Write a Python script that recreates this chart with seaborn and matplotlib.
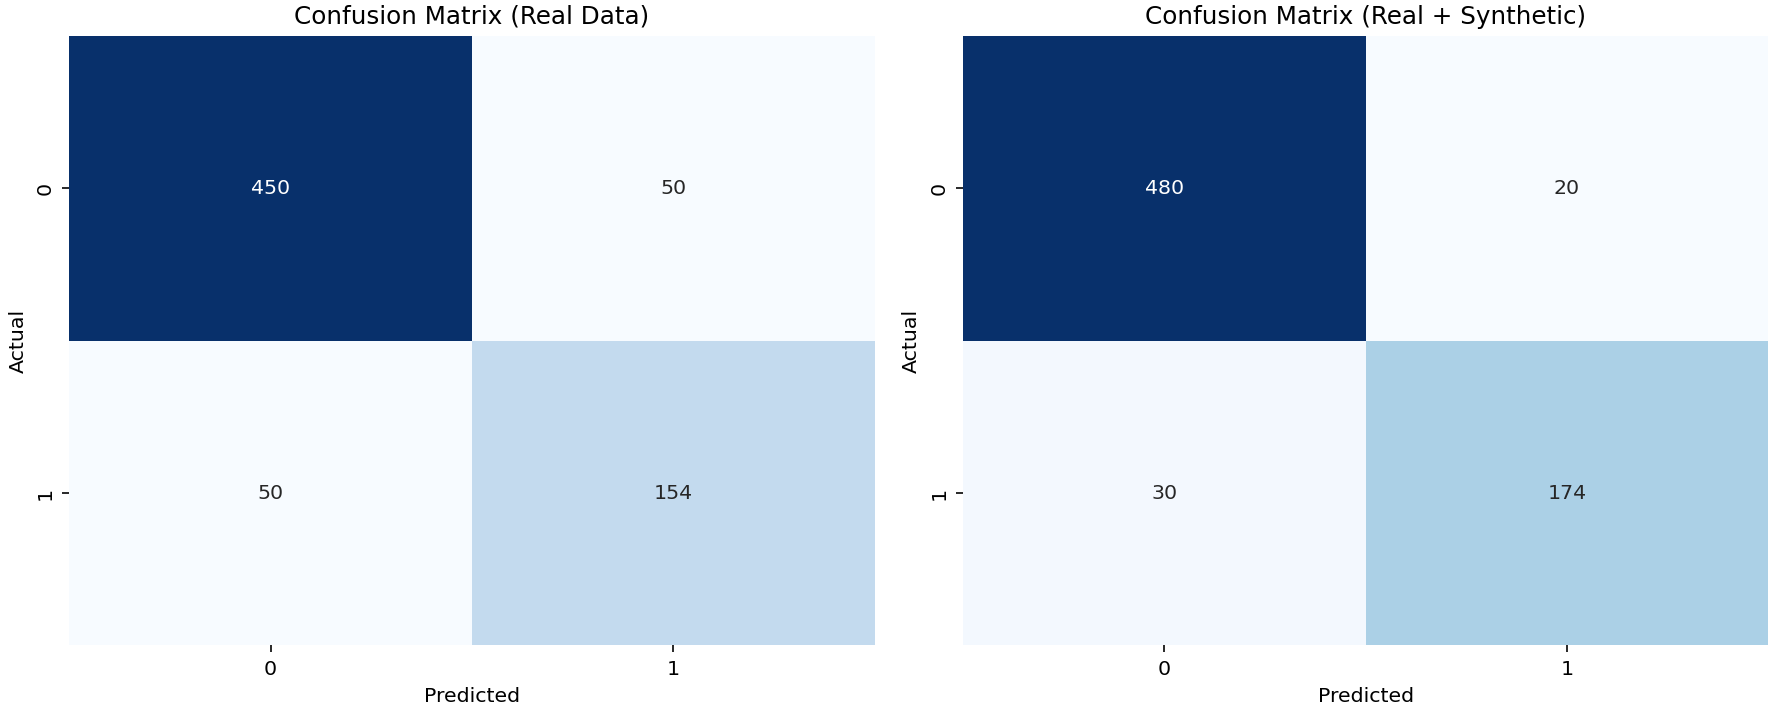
import seaborn as sns
import numpy as np
import matplotlib.pyplot as plt

LABELS = ['0', '1']
CM_REAL = [[450, 50],
           [50, 154]]
CM_AUG = [[480, 20],
          [30, 174]]
TITLES = ['Confusion Matrix (Real Data)', 'Confusion Matrix (Real + Synthetic)']

fig, axes = plt.subplots(1, 2, figsize=(12, 4.81), dpi=1772 / 12)
for ax, cm, title in zip(axes, [CM_REAL, CM_AUG], TITLES):
    sns.heatmap(np.array(cm), annot=True, fmt='d', cmap='Blues', cbar=False,
                xticklabels=LABELS, yticklabels=LABELS, ax=ax)
    ax.set_title(title)
    ax.set_xlabel('Predicted')
    ax.set_ylabel('Actual')

# match the tight margins of the reference
plt.subplots_adjust(left=0.039, right=0.998, top=0.949, bottom=0.091, wspace=0.109)
plt.savefig('out.png')
plt.close()
